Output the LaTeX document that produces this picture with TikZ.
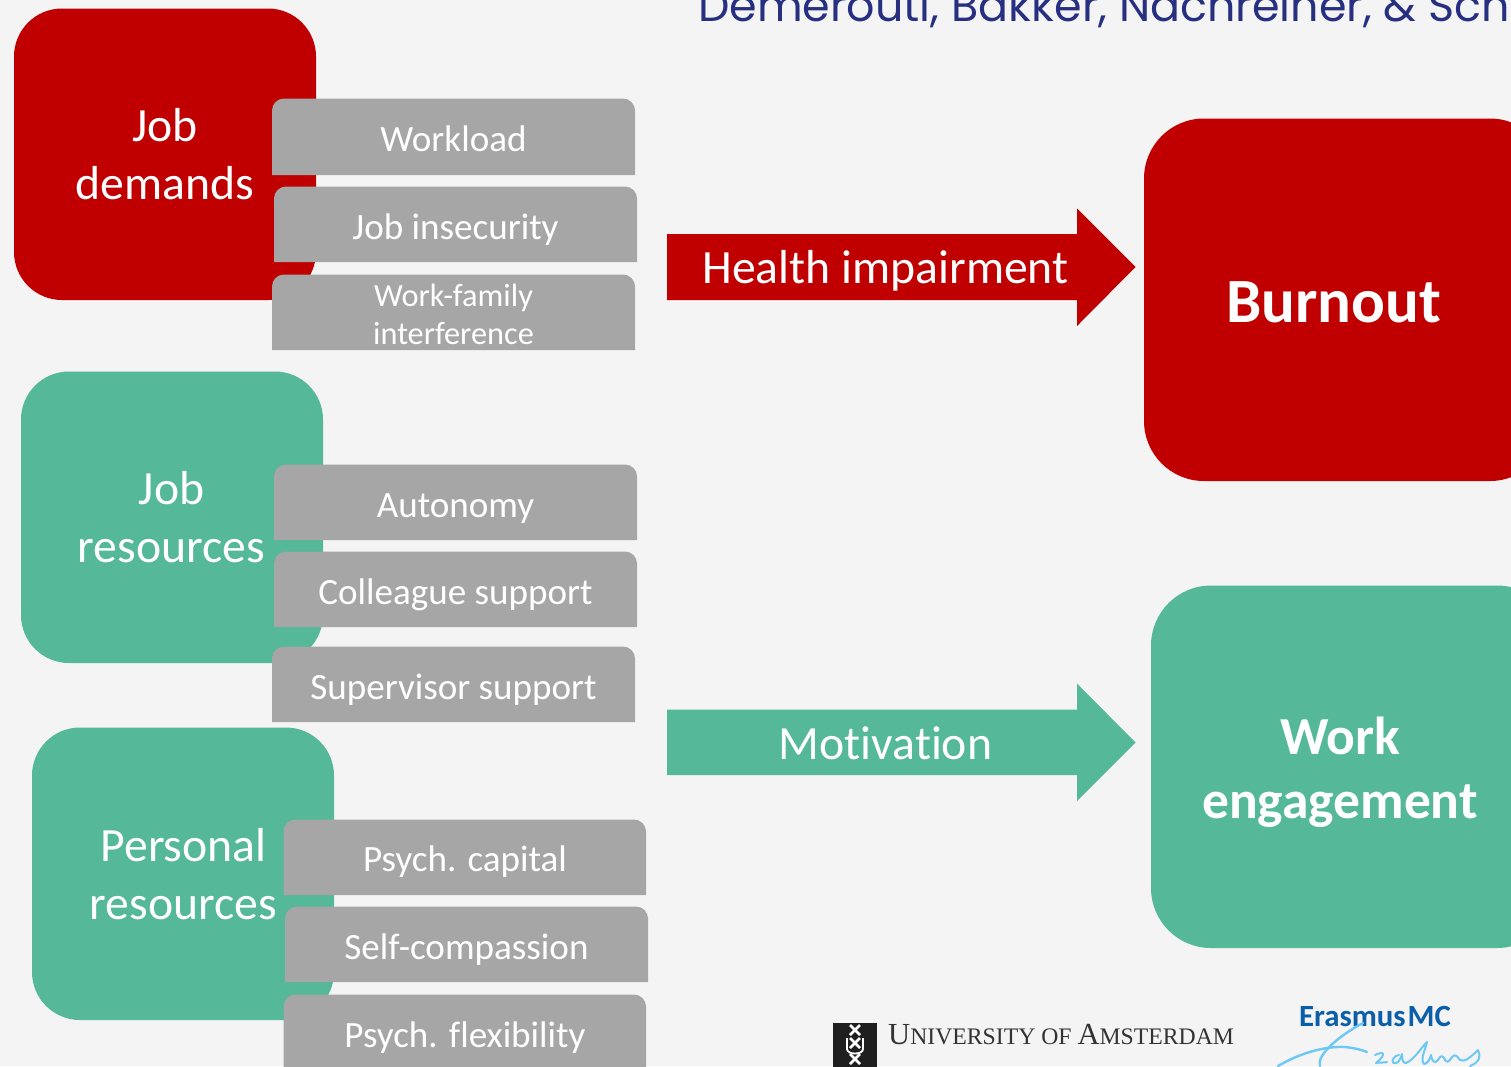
\documentclass[tikz,border=0pt]{standalone}
\usepackage{fontspec}
\setmainfont{Carlito}[Ligatures=CommonOff]
\newfontfamily\titlefont{Poppins}
\newfontfamily\uvafont{Liberation Serif}
\definecolor{bgc}{HTML}{F4F4F4}
\definecolor{redc}{HTML}{C00000}
\definecolor{greenc}{HTML}{54B899}
\definecolor{grayc}{HTML}{A6A6A6}
\definecolor{titlec}{HTML}{262F80}
\definecolor{emcblue}{HTML}{0B5EA8}
\definecolor{sigblue}{HTML}{6CC8F5}
\definecolor{uvagray}{HTML}{333333}
\newcommand{\fsz}[1]{\fontsize{#1}{#1}\selectfont}
\tikzset{x=1pt,y=-1pt,
  txt/.style={text=white,anchor=base,inner sep=0pt,outer sep=0pt,align=center},
  big/.style={txt,font=\fsz{47.7}},
  small/.style={txt,font=\fsz{37.1}},
  tiny/.style={txt,font=\fsz{32.3}},
  outcome/.style={txt,font=\fsz{63}\bfseries},
  outcomeb/.style={txt,font=\fsz{53.5}\bfseries},
  sigline/.style={draw=sigblue,line width=2.4pt,line cap=round,line join=round,fill=none},
  emblem/.style={draw=white,line width=2.6pt}}
% grey box with rounded top corners only: x1, y1, x2, y2
\newcommand{\gbox}[4]{%
  \fill[grayc] (#1,#4) -- (#1,#2+12) arc[start angle=180,end angle=90,x radius=12,y radius=-12] -- (#3-12,#2) arc[start angle=90,end angle=0,x radius=12,y radius=-12] -- (#3,#4) -- cycle;}
\newcommand{\crossmark}[2]{\draw[emblem] (#1-5,#2-5) -- (#1+5,#2+5) (#1-5,#2+5) -- (#1+5,#2-5);}
\begin{document}
\begin{tikzpicture}
\useasboundingbox (0,0) rectangle (1511,1066);
\clip (0,0) rectangle (1511,1066);
\fill[bgc] (0,0) rectangle (1511,1066);
% title
\node[anchor=base west,inner sep=0,text=titlec,font=\titlefont\fsz{44.4}] (title) at (698,21) {Demerouti, Bakker, Nachreiner, \& Sch};
% category blocks
\fill[redc,rounded corners=48pt] (14,8.5) rectangle (316,300);
\fill[greenc,rounded corners=48pt] (21,371.5) rectangle (323,663);
\fill[greenc,rounded corners=48pt] (32,727.5) rectangle (334,1020);
\node[big] (jd1) at (165,141.5) {Job};
\node[big] (jd2) at (165,199.5) {demands};
\node[big] (jr1) at (171.5,504.5) {Job};
\node[big] (jr2) at (171.5,562.5) {resources};
\node[big] (pr1) at (183.5,861.5) {Personal};
\node[big] (pr2) at (183.5,919.5) {resources};
% items
\gbox{272}{98.5}{635}{175}
\gbox{274}{186.5}{637}{262}
\gbox{272}{274.5}{635}{350}
\gbox{274}{464.5}{637}{540}
\gbox{274}{551.5}{637}{627}
\gbox{272}{646.5}{635}{722}
\gbox{283.5}{819.5}{646}{895}
\gbox{285}{906.5}{648}{982}
\gbox{283.5}{994.5}{646}{1085}
\node[small] (ta) at (453.5,151.5) {Workload};
\node[small] (tb) at (455.5,239.5) {Job insecurity};
\node[tiny] (tc1) at (453.5,306.5) {Work-family};
\node[tiny] (tc2) at (453.5,344.5) {interference};
\node[small] (td) at (455.5,517.5) {Autonomy};
\node[small] (te) at (455.5,604.5) {Colleague support};
\node[small] (tf) at (453.5,699.5) {Supervisor support};
\node[small] (tg) at (465,871.5) {Psych. capital};
\node[small] (th) at (466.5,959.5) {Self-compassion};
\node[small] (ti) at (465,1047.5) {Psych. flexibility};
% block arrows
\fill[redc] (667,234) -- (1077,234) -- (1077,208.5) -- (1135.5,267) -- (1077,326) -- (1077,300) -- (667,300) -- cycle;
\fill[greenc] (667,709.5) -- (1077,709.5) -- (1077,683.5) -- (1135.5,742.5) -- (1077,801) -- (1077,775) -- (667,775) -- cycle;
\node[big] (health) at (885.5,283.5) {Health impairment};
\node[big] (motiv) at (885.5,759) {Motivation};
% outcomes
\fill[redc,rounded corners=60pt] (1144,118.5) rectangle (1550,481);
\fill[greenc,rounded corners=60pt] (1151,585.5) rectangle (1557,948);
\node[outcome] (burn) at (1333.5,322) {Burnout};
\node[outcomeb] (we1) at (1340,754) {Work};
\node[outcomeb] (we2) at (1340,818) {engagement};
% UvA logo
\fill[black!88] (833,1023) rectangle (877,1070);
\crossmark{855}{1030}
\crossmark{855}{1043}
\crossmark{855}{1059}
\draw[white,line width=1.8pt] (847,1038) -- (847,1049) .. controls (847,1055) and (863,1055) .. (863,1049) -- (863,1038);
\node[anchor=base west,inner sep=0,text=uvagray,font=\uvafont\fsz{30.6}] (uva) at (888,1044.5) {U\fsz{23.7}NIVERSITY OF \fsz{30.6}A\fsz{23.7}MSTERDAM};
% Erasmus MC logo
\node[anchor=base,inner sep=0,text=emcblue,font=\fsz{30.8}\bfseries] (emc) at (1375,1026) {Erasmus\kern2pt MC};
\draw[sigline] (1278,1066) .. controls (1300,1053) and (1325,1046) .. (1345,1047) .. controls (1355,1048) and (1362,1050) .. (1367,1052);
\draw[sigline] (1363,1023) .. controls (1340,1035) and (1316,1055) .. (1320,1066);
\draw[sigline,line width=2pt] (1375,1055) .. controls (1385,1050) and (1386,1055) .. (1376,1063) .. controls (1380,1062) and (1384,1063) .. (1387,1062);
\draw[sigline,line width=2pt] (1399,1055) .. controls (1392,1056) and (1390,1064) .. (1396,1063) .. controls (1400,1062) and (1401,1056) .. (1402,1054) .. controls (1402,1060) and (1403,1063) .. (1406,1063) .. controls (1414,1060) and (1424,1044) .. (1427,1042) .. controls (1425,1050) and (1420,1060) .. (1424,1064) .. controls (1428,1064) and (1430,1058) .. (1431,1055) .. controls (1432,1062) and (1435,1064) .. (1438,1060) .. controls (1440,1056) and (1442,1055) .. (1444,1058) .. controls (1446,1064) and (1449,1062) .. (1452,1057) .. controls (1455,1053) and (1458,1057) .. (1460,1060) .. controls (1464,1063) and (1472,1056) .. (1478,1050) .. controls (1481,1056) and (1480,1062) .. (1470,1066);
\end{tikzpicture}
\end{document}
